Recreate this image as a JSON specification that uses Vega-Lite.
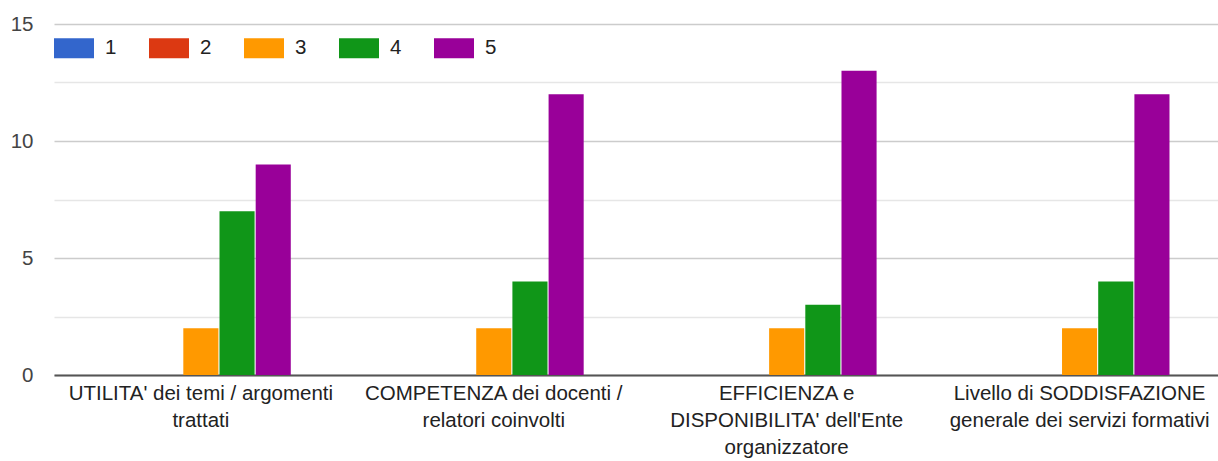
{
  "$schema": "https://vega.github.io/schema/vega-lite/v6.json",
  "autosize": {"type": "none"},
  "padding": {"left": 54, "top": 24, "right": 0, "bottom": 86},
  "width": 1164,
  "height": 351,
  "background": "white",
  "config": {
    "view": {"stroke": null},
    "font": "Liberation Sans",
    "axis": {"labelFont": "Liberation Sans", "titleFont": "Liberation Sans"},
    "legend": {"labelFont": "Liberation Sans"}
  },
  "data": {
    "values": [
      {"cat": "UTILITA' dei temi / argomenti|trattati", "rating": "1", "count": 0},
      {"cat": "UTILITA' dei temi / argomenti|trattati", "rating": "2", "count": 0},
      {"cat": "UTILITA' dei temi / argomenti|trattati", "rating": "3", "count": 2},
      {"cat": "UTILITA' dei temi / argomenti|trattati", "rating": "4", "count": 7},
      {"cat": "UTILITA' dei temi / argomenti|trattati", "rating": "5", "count": 9},
      {"cat": "COMPETENZA dei docenti /|relatori coinvolti", "rating": "1", "count": 0},
      {"cat": "COMPETENZA dei docenti /|relatori coinvolti", "rating": "2", "count": 0},
      {"cat": "COMPETENZA dei docenti /|relatori coinvolti", "rating": "3", "count": 2},
      {"cat": "COMPETENZA dei docenti /|relatori coinvolti", "rating": "4", "count": 4},
      {"cat": "COMPETENZA dei docenti /|relatori coinvolti", "rating": "5", "count": 12},
      {"cat": "EFFICIENZA e|DISPONIBILITA' dell'Ente|organizzatore", "rating": "1", "count": 0},
      {"cat": "EFFICIENZA e|DISPONIBILITA' dell'Ente|organizzatore", "rating": "2", "count": 0},
      {"cat": "EFFICIENZA e|DISPONIBILITA' dell'Ente|organizzatore", "rating": "3", "count": 2},
      {"cat": "EFFICIENZA e|DISPONIBILITA' dell'Ente|organizzatore", "rating": "4", "count": 3},
      {"cat": "EFFICIENZA e|DISPONIBILITA' dell'Ente|organizzatore", "rating": "5", "count": 13},
      {"cat": "Livello di SODDISFAZIONE|generale dei servizi formativi", "rating": "1", "count": 0},
      {"cat": "Livello di SODDISFAZIONE|generale dei servizi formativi", "rating": "2", "count": 0},
      {"cat": "Livello di SODDISFAZIONE|generale dei servizi formativi", "rating": "3", "count": 2},
      {"cat": "Livello di SODDISFAZIONE|generale dei servizi formativi", "rating": "4", "count": 4},
      {"cat": "Livello di SODDISFAZIONE|generale dei servizi formativi", "rating": "5", "count": 12}
    ]
  },
  "mark": {"type": "bar"},
  "encoding": {
    "x": {
      "field": "cat",
      "type": "nominal",
      "sort": null,
      "scale": {"paddingInner": 0.386, "paddingOuter": 0.18, "align": 0.54},
      "axis": {
        "title": null,
        "labelAngle": 0,
        "labelExpr": "split(datum.label, '|')",
        "labelFontSize": 20.5,
        "labelColor": "#222222",
        "labelLineHeight": 27,
        "labelPadding": 8,
        "labelLimit": 0,
        "ticks": false,
        "domainColor": "#555555",
        "domainWidth": 2,
        "grid": false
      }
    },
    "xOffset": {
      "field": "rating",
      "type": "nominal",
      "scale": {"paddingInner": 0.03, "paddingOuter": 0}
    },
    "y": {
      "field": "count",
      "type": "quantitative",
      "scale": {"domain": [0, 15], "nice": false},
      "axis": {
        "title": null,
        "values": [0, 2.5, 5, 7.5, 10, 12.5, 15],
        "labelExpr": "datum.value % 5 === 0 ? datum.label : ''",
        "labelFontSize": 20.5,
        "labelColor": "#444444",
        "labelPadding": 21,
        "ticks": false,
        "domain": false,
        "gridColor": {"condition": {"test": "datum.value % 5 === 0", "value": "#cccccc"}, "value": "#e6e6e6"},
        "gridWidth": 1.5
      }
    },
    "color": {
      "field": "rating",
      "type": "nominal",
      "scale": {"domain": ["1", "2", "3", "4", "5"], "range": ["#3366cc", "#dc3912", "#ff9900", "#109618", "#990099"]},
      "legend": {
        "title": null,
        "orient": "none",
        "legendX": 0,
        "legendY": 4,
        "direction": "horizontal",
        "padding": 0,
        "symbolType": "M-1,-0.5H1V0.5H-1Z",
        "symbolSize": 1600,
        "symbolStrokeWidth": 0,
        "symbolOpacity": 1,
        "labelFontSize": 20.5,
        "labelColor": "#222222",
        "labelOffset": 11,
        "columnPadding": 32
      }
    }
  }
}
